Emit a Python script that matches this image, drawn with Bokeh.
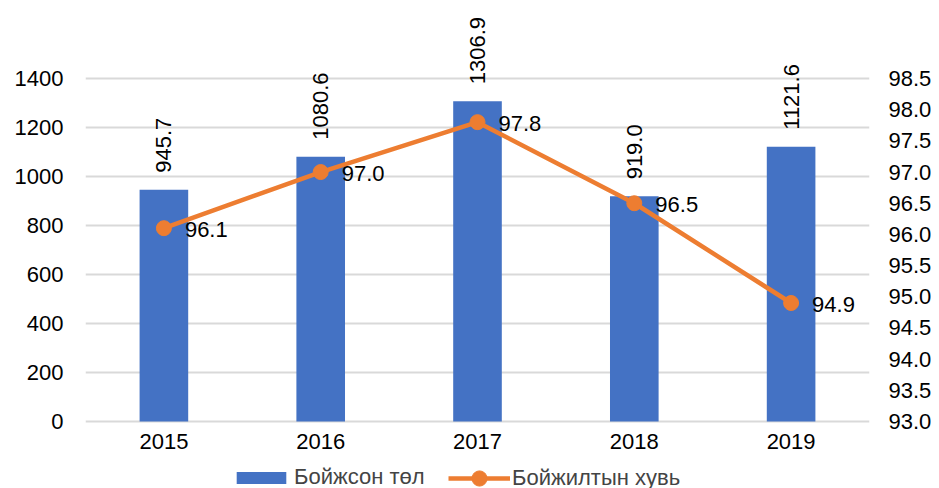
import math
from bokeh.plotting import figure
from bokeh.models import (ColumnDataSource, FactorRange, Range1d, LinearAxis, LabelSet,
                          Legend, LegendItem, FixedTicker, CustomJSTickFormatter)
from bokeh.core.properties import value
from bokeh.embed import file_html
from bokeh.resources import INLINE

years = ["2015", "2016", "2017", "2018", "2019"]
bar_values = [945.7, 1080.6, 1306.9, 919.0, 1121.6]
rate_values = [96.1, 97.0, 97.8, 96.5, 94.9]
bar_name = "Бойжсон төл"
line_name = "Бойжилтын хувь"
left_ticks = [0, 200, 400, 600, 800, 1000, 1200, 1400]
right_ticks = [93.0, 93.5, 94.0, 94.5, 95.0, 95.5, 96.0, 96.5, 97.0, 97.5, 98.0, 98.5]

FONT = "Liberation Sans"
BLUE = "#4472C4"
ORANGE = "#ED7D31"

W, H = 939, 488
# pixel geometry of the value axes (frame spans full height so labels are not clipped)
AX_TOP, AX_BOT = 78, 421
ppx_l = (AX_BOT - AX_TOP) / (left_ticks[-1] - left_ticks[0])
ppx_r = (AX_BOT - AX_TOP) / (right_ticks[-1] - right_ticks[0])
l_range = Range1d(left_ticks[0] - (H - AX_BOT) / ppx_l, left_ticks[0] + AX_BOT / ppx_l)
r_range = Range1d(right_ticks[0] - (H - AX_BOT) / ppx_r, right_ticks[0] + AX_BOT / ppx_r)

src = ColumnDataSource(dict(
    x=years, bar=bar_values, rate=rate_values, zero=[0] * len(years),
    bar_lbl=[f"{v:.1f}" for v in bar_values],
    rate_lbl=[f"{v:.1f}" for v in rate_values],
))

p = figure(width=W, height=H, x_range=FactorRange(*years, range_padding=0),
           y_range=l_range, output_backend="svg", toolbar_location=None,
           min_border_left=85, min_border_right=70, min_border_top=0, min_border_bottom=0,
           x_axis_location=None)
p.outline_line_color = None
p.background_fill_color = "white"
p.border_fill_color = "white"
p.extra_y_ranges = {"right": r_range}

bars = p.vbar(x="x", top="bar", bottom=0, width=0.31, source=src, fill_color=BLUE, line_color=None)
line = p.line(x="x", y="rate", source=src, y_range_name="right", line_color=ORANGE, line_width=4.5)
pts = p.scatter(x="x", y="rate", source=src, y_range_name="right", size=15,
                fill_color=ORANGE, line_color=ORANGE)

# value axes
p.yaxis.ticker = FixedTicker(ticks=left_ticks)
ax_r = LinearAxis(y_range_name="right", ticker=FixedTicker(ticks=right_ticks),
                  formatter=CustomJSTickFormatter(code="return tick.toFixed(1);"))
p.add_layout(ax_r, "right")
for ax in [p.yaxis[0], ax_r]:
    ax.axis_line_color = None
    ax.major_tick_line_color = None
    ax.minor_tick_line_color = None
    ax.major_tick_out = 0
    ax.major_tick_in = 0
    ax.major_label_text_font = FONT
    ax.major_label_text_font_size = "22px"
    ax.major_label_text_color = "#000000"
p.yaxis[0].major_label_standoff = 22
ax_r.major_label_standoff = 19

p.xgrid.grid_line_color = None
p.ygrid.grid_line_color = "#D9D9D9"
p.ygrid.grid_line_width = 2

# category labels under the bars
xl = LabelSet(x="x", y="zero", text="x", source=src, text_align="center",
              text_baseline="middle", y_offset=-20,
              text_font=value(FONT), text_font_size="22px", text_color="#000000")
p.add_layout(xl)

# data labels
bl = LabelSet(x="x", y="bar", text="bar_lbl", source=src, angle=math.pi / 2,
              text_align="left", text_baseline="middle", y_offset=17,
              text_font=value(FONT), text_font_size="22px", text_color="#000000")
p.add_layout(bl)
rl = LabelSet(x="x", y="rate", text="rate_lbl", source=src, y_range_name="right",
              text_align="left", text_baseline="middle", x_offset=21, y_offset=-1,
              text_font=value(FONT), text_font_size="22px", text_color="#000000")
p.add_layout(rl)

common = dict(orientation="horizontal", label_text_font=FONT, label_text_font_size="22px",
              label_standoff=2, padding=0, margin=0, border_line_color=None,
              background_fill_alpha=0, glyph_width=62)
legend1 = Legend(items=[LegendItem(label=bar_name, renderers=[bars])],
                 location=(145, -2), glyph_height=15, **common)
legend2 = Legend(items=[LegendItem(label=line_name, renderers=[line, pts])],
                 location=(363, -9), glyph_height=38, **common)
p.add_layout(legend1, "center")
p.add_layout(legend2, "center")

open("out.html", "w").write(file_html(p, INLINE))
